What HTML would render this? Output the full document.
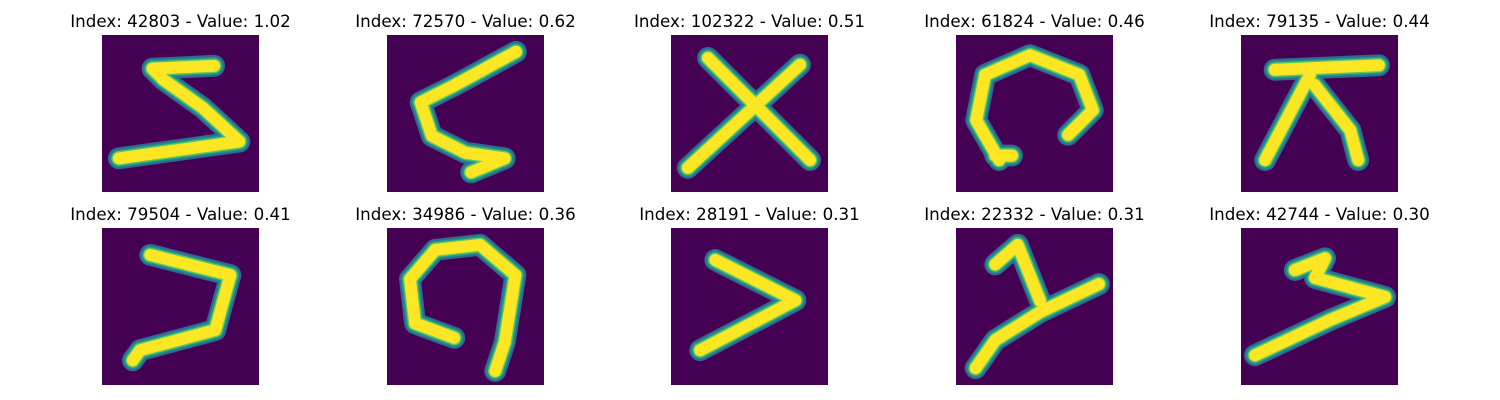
<!DOCTYPE html>
<html><head><meta charset="utf-8"><style>
html,body{margin:0;padding:0;background:#fff;}
svg{display:block;}
text{font-family:"DejaVu Sans","Liberation Sans",sans-serif;font-size:16.7px;fill:#000;}
</style></head><body>
<svg id="fig" width="1500" height="400" viewBox="0 0 1500 400"></svg>
<script>
const indices = [42803, 72570, 102322, 61824, 79135, 79504, 34986, 28191, 22332, 42744];
const values = [1.02, 0.62, 0.51, 0.46, 0.44, 0.41, 0.36, 0.31, 0.31, 0.30];
const strokes = [
  [[[20,5.5],[9,6],[11,8],[18,13],[24.5,19],[3,22]]],
  [[[23,3],[12,9],[6,12],[8,18],[14,21],[21,22],[15,24.5]]],
  [[[6.6,4.1],[24.8,22.3]],[[23,5.3],[3,23.7]]],
  [[[7.7,22.3],[3.6,15.2],[5.2,7.1],[13.2,3.6],[22,7.1],[24.4,13.4],[20,17.8]],[[7,21.5],[10,21.5]]],
  [[[6,6.2],[24.6,5.4]],[[12.3,7.1],[4.3,22.3]],[[13.1,8.9],[19.5,17],[20.9,22.3]]],
  [[[8.6,4.8],[22.9,8.4],[20.2,18.2],[6.8,21.8],[5.5,23.6]]],
  [[[12,19.6],[5,17],[4.1,9.1],[8.6,3.9],[16.6,3],[22.9,8.4],[21,20.4],[19.3,25.5]]],
  [[[7.9,5.7],[22.2,12.9],[5.2,21.8]]],
  [[[7,6.5],[11,3],[13,8],[15,13]],[[25.5,10],[15,15],[7,20],[3.5,25]]],
  [[[9.6,7.5],[15,5.4],[13.2,8.9],[25.7,12.3],[15.9,16.4],[2.5,22.7]]]
];
const NS = "http://www.w3.org/2000/svg";
const svg = document.getElementById("fig");
const colX = [102, 387, 671, 956, 1241];
const rowY = [35, 228];
const S = 157, U = S/28;
function px(x0, v){ return x0 + v*U; }
for (let i=0;i<indices.length;i++){
  const x0 = colX[i%5], y0 = rowY[Math.floor(i/5)];
  const g = document.createElementNS(NS,"g");
  
  
  const t = document.createElementNS(NS,"text");
  
  
  t.setAttribute("x", x0+S/2); t.setAttribute("y", y0-8);
  t.setAttribute("text-anchor","middle");
  t.textContent = "Index: "+indices[i]+" - Value: "+values[i].toFixed(2);
  g.appendChild(t);
  const r = document.createElementNS(NS,"rect");
  
  
  r.setAttribute("x",x0); r.setAttribute("y",y0); r.setAttribute("width",S); r.setAttribute("height",S);
  r.setAttribute("fill","#440154");
  g.appendChild(r);
  const layers = [["#31688e",3.9],["#21918c",3.2],["#5ec962",2.6],["#fde725",2.1]];
  for (const [col,w] of layers){
    for (const s of strokes[i]){
      const p = document.createElementNS(NS,"polyline");
      
      
      p.setAttribute("points", s.map(q=>px(x0,q[0])+","+px(y0,q[1])).join(" "));
      p.setAttribute("fill","none"); p.setAttribute("stroke",col);
      p.setAttribute("stroke-width", w*U);
      p.setAttribute("stroke-linecap","round"); p.setAttribute("stroke-linejoin","round");
      g.appendChild(p);
    }
  }
  svg.appendChild(g);
}
</script>
</body></html>
